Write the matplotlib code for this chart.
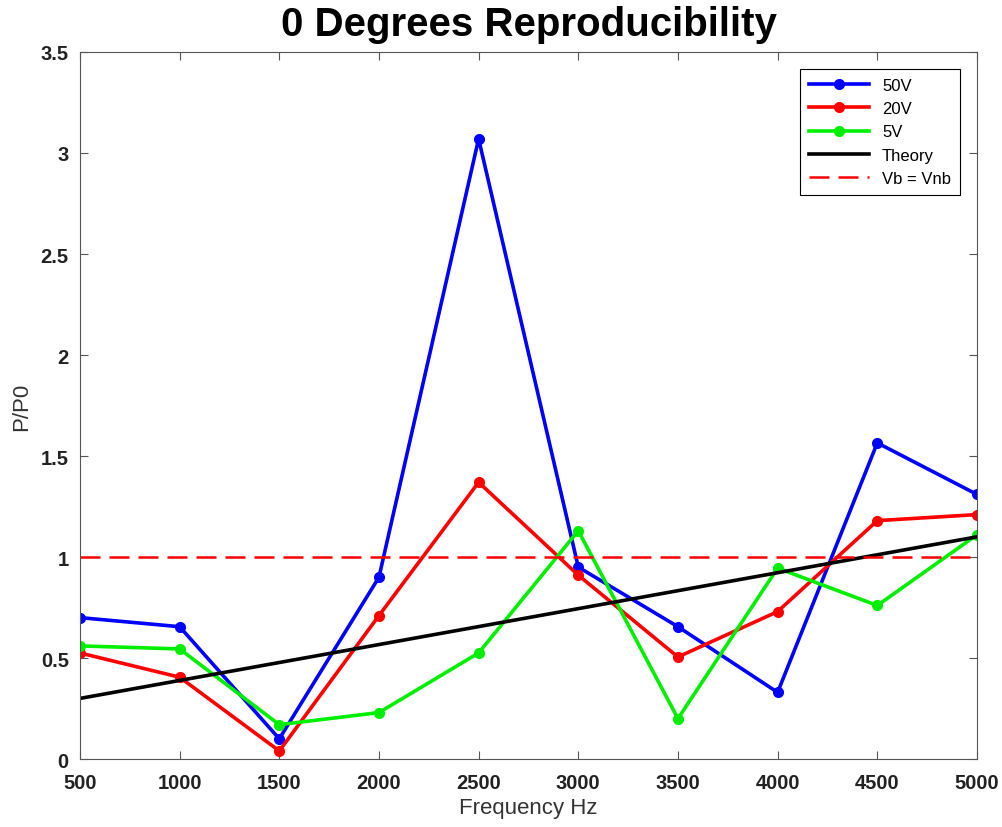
import matplotlib
matplotlib.use("Agg")
import matplotlib.pyplot as plt

# частоты, Гц
freq = [500, 1000, 1500, 2000, 2500, 3000, 3500, 4000, 4500, 5000]

# измеренные P/P0 для трёх напряжений
p_50v = [0.70, 0.655, 0.10, 0.90, 3.07, 0.95, 0.655, 0.33, 1.565, 1.31]
p_20v = [0.525, 0.405, 0.04, 0.71, 1.37, 0.91, 0.505, 0.73, 1.18, 1.21]
p_5v = [0.56, 0.545, 0.17, 0.23, 0.525, 1.13, 0.20, 0.945, 0.76, 1.11]

# теоретическая прямая (концы)
theory_f = [500, 5000]
theory_p = [0.30, 1.10]

ref_level = 1.0

plt.rcParams['font.family'] = ['Liberation Sans', 'DejaVu Sans']

fig = plt.figure(figsize=(10.02, 8.28), dpi=100)
ax = fig.add_axes([0.0798, 0.0821, 0.8952, 0.8539])

ax.plot(freq, p_50v, color="#0000ff", lw=2.6, marker='o', ms=7, label='50V')
ax.plot(freq, p_20v, color="#ff0000", lw=2.6, marker='o', ms=7, label='20V')
ax.plot(freq, p_5v, color="#00ee00", lw=2.6, marker='o', ms=7, label='5V')
ax.plot(theory_f, theory_p, color="black", lw=2.6, label='Theory')
ax.axhline(ref_level, color="#ff0000", lw=1.8, ls=(0, (8, 3.6)), label='Vb = Vnb')

ax.set(xlim=[500, 5000], ylim=[0, 3.5])
ax.set_xticks(freq)
ax.set_yticks([0, 0.5, 1, 1.5, 2, 2.5, 3, 3.5])
ax.set_yticklabels(['0', '0.5', '1', '1.5', '2', '2.5', '3', '3.5'])
ax.tick_params(direction='in', top=True, right=True, length=6, width=0.8,
               color='#555555', labelsize=14.5, pad=10)
ax.tick_params(axis='y', pad=8)
for lab in ax.get_xticklabels() + ax.get_yticklabels():
    lab.set_fontweight('bold')
    lab.set_color('#222222')
for sp in ax.spines.values():
    sp.set_color('#555555')

ax.set_xlabel('Frequency Hz', fontsize=16, color='#333333', labelpad=4)
ax.set_ylabel('P/P0', fontsize=16, color='#333333', labelpad=6)
ax.set_title('0 Degrees Reproducibility', fontsize=29, fontweight='heavy', pad=12)

leg = ax.legend(loc='upper right', fontsize=12, fancybox=False, framealpha=1,
                edgecolor='black', borderaxespad=1.0, handlelength=3.6,
                labelspacing=0.5, borderpad=0.55)
leg.get_frame().set_linewidth(0.8)

fig.savefig('out.png', dpi=100)
